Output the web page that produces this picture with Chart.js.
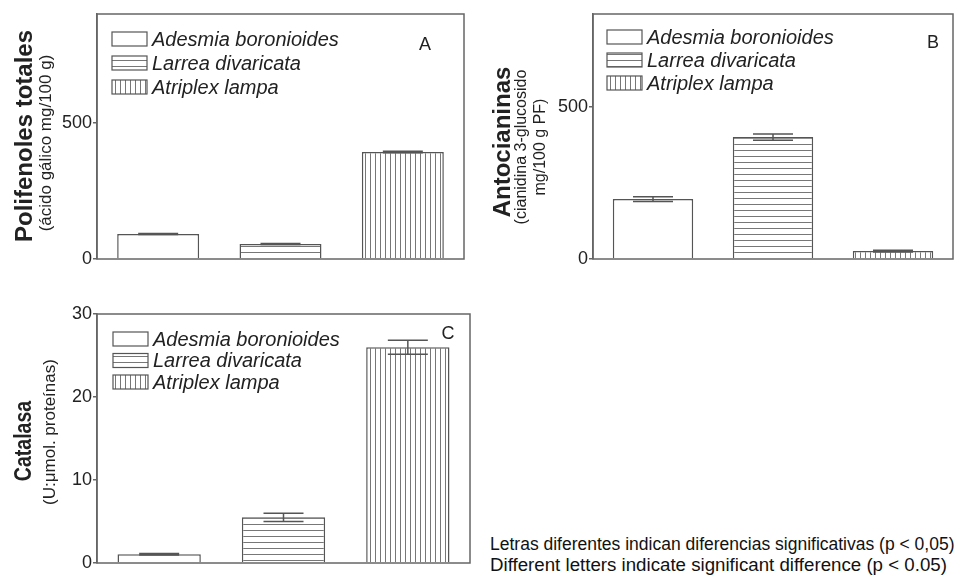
<!DOCTYPE html>
<html>
<head>
<meta charset="utf-8">
<script src="https://cdn.jsdelivr.net/npm/chart.js@4.4.0/dist/chart.umd.min.js"></script>
<style>
    body { margin: 0; background: #fff; width: 955px; height: 576px; overflow: hidden; position: relative;
           font-family: 'Liberation Sans', Arial, sans-serif; color: #222; }
    canvas { position: absolute; }
    .rot { position: absolute; white-space: nowrap; text-align: center; transform: translate(-50%, -50%) rotate(-90deg); }
    .title { font-weight: bold; font-size: 24px; }
    .sub { font-size: 17px; }
    .letter { position: absolute; font-size: 18px; transform: translate(-50%, -50%); }
    .note { position: absolute; left: 490px; font-size: 17.5px; color: #111; white-space: nowrap; line-height: 1; }
</style>
</head>
<body>
<canvas id="chartA" width="480" height="280" style="left:0;top:0"></canvas>
<canvas id="chartB" width="475" height="280" style="left:480px;top:0"></canvas>
<canvas id="chartC" width="480" height="286" style="left:0;top:290px"></canvas>

<div class="rot title" style="left:24px;top:136px">Polifenoles totales</div>
<div class="rot sub" style="left:46px;top:143px">(ácido gálico mg/100 g)</div>
<div class="rot title" style="left:502px;top:142px">Antocianinas</div>
<div class="rot sub" style="left:530px;top:147px;font-size:16px;line-height:19px">(cianidina 3-glucosido<br>mg/100 g PF)</div>
<div class="rot title" style="left:23px;top:441px;font-size:23px;transform:translate(-50%,-50%) rotate(-90deg) scaleX(0.85)">Catalasa</div>
<div class="rot sub" style="left:50px;top:432px">(U:μmol. proteínas)</div>

<div class="letter" style="left:425px;top:44px">A</div>
<div class="letter" style="left:933px;top:42px">B</div>
<div class="letter" style="left:448px;top:333px">C</div>

<div class="note" style="top:536px">Letras diferentes indican diferencias significativas (p &lt; 0,05)</div>
<div class="note" style="top:556px;font-size:18.7px">Different letters indicate significant difference (p &lt; 0.05)</div>

<script>
const categories = ['Adesmia boronioides', 'Larrea divaricata', 'Atriplex lampa'];

const polifenoles = [92, 55, 393];
const polifenolesErr = [2, 2, 3];
const antocianinas = [197, 401, 26];
const antocianinasErr = [8, 10, 3];
const catalasa = [1.05, 5.5, 26.0];
const catalasaErr = [0.1, 0.5, 0.85];

const ticksA = [0, 500];
const ticksB = [0, 500];
const ticksC = [0, 10, 20, 30];

Chart.defaults.font.family = "'Liberation Sans', Arial, sans-serif";
const lineColor = '#666';

// hatch fills: plain, horizontal lines, vertical lines
function makePattern(kind) {
    const c = document.createElement('canvas');
    const ctx = c.getContext('2d');
    c.width = kind === 'v' ? 5 : 6;
    c.height = kind === 'h' ? 6 : 5;
    ctx.fillStyle = '#fff';
    ctx.fillRect(0, 0, c.width, c.height);
    ctx.strokeStyle = '#777';
    ctx.lineWidth = 1;
    ctx.beginPath();
    if (kind === 'h') { ctx.moveTo(0, 0.5); ctx.lineTo(c.width, 0.5); }
    if (kind === 'v') { ctx.moveTo(0.5, 0); ctx.lineTo(0.5, c.height); }
    ctx.stroke();
    return ctx.createPattern(c, 'repeat');
}
const fills = [makePattern('none'), makePattern('h'), makePattern('v')];

const errorBars = {
    id: 'errorBars',
    afterDatasetsDraw(chart, args, opts) {
        const meta = chart.getDatasetMeta(0);
        const y = chart.scales.y;
        const data = chart.data.datasets[0].data;
        const ctx = chart.ctx;
        ctx.save();
        ctx.strokeStyle = '#555';
        ctx.lineWidth = 1.5;
        meta.data.forEach((bar, i) => {
            const yt = y.getPixelForValue(data[i] + opts.errors[i]);
            const yb = y.getPixelForValue(data[i] - opts.errors[i]);
            ctx.beginPath();
            ctx.moveTo(bar.x, yt); ctx.lineTo(bar.x, yb);
            ctx.moveTo(bar.x - 20, yt); ctx.lineTo(bar.x + 20, yt);
            ctx.moveTo(bar.x - 20, yb); ctx.lineTo(bar.x + 20, yb);
            ctx.stroke();
        });
        ctx.restore();
    }
};

const frameBox = {
    id: 'frameBox',
    afterDraw(chart) {
        const { ctx, chartArea: a } = chart;
        ctx.save();
        ctx.strokeStyle = lineColor;
        ctx.lineWidth = 1.5;
        ctx.strokeRect(a.left, a.top, a.right - a.left, a.bottom - a.top);
        ctx.restore();
    }
};

// legend drawn inside the plot area
const insideLegend = {
    id: 'insideLegend',
    afterDraw(chart, args, opts) {
        const { ctx, chartArea: a } = chart;
        const ds = chart.data.datasets[0];
        ctx.save();
        chart.data.labels.forEach((label, i) => {
            const x = a.left + opts.dx;
            const yc = a.top + opts.dy + i * opts.gap;
            ctx.fillStyle = ds.backgroundColor[i];
            ctx.fillRect(x, yc - 7, 35, 14);
            ctx.strokeStyle = '#555';
            ctx.lineWidth = 1.2;
            ctx.strokeRect(x, yc - 7, 35, 14);
            ctx.fillStyle = '#222';
            ctx.font = "italic 20px 'Liberation Sans', Arial, sans-serif";
            ctx.textBaseline = 'middle';
            ctx.fillText(label, x + 40, yc + 1);
        });
        ctx.restore();
    }
};

function makeChart(id, values, errors, tickValues, maxV, cfg) {
    return new Chart(document.getElementById(id), {
        type: 'bar',
        data: {
            labels: categories,
            datasets: [{
                data: values,
                backgroundColor: fills,
                borderColor: '#555',
                borderWidth: 1.5,
                categoryPercentage: 1,
                barPercentage: 0.67
            }]
        },
        options: {
            responsive: false,
            animation: false,
            layout: { padding: cfg.padding },
            plugins: {
                legend: { display: false },
                tooltip: { enabled: false },
                errorBars: { errors: errors },
                insideLegend: cfg.legend
            },
            scales: {
                x: { display: false },
                y: {
                    min: 0,
                    max: maxV,
                    afterBuildTicks: s => { s.ticks = tickValues.map(v => ({ value: v })); },
                    afterFit: s => { s.width = cfg.axisWidth; },
                    ticks: { color: '#222', font: { size: 18 }, padding: 1 },
                    grid: { drawOnChartArea: false, tickLength: 4, color: lineColor, lineWidth: 1.5 },
                    border: { color: lineColor, width: 1.5 }
                }
            }
        },
        plugins: [errorBars, frameBox, insideLegend]
    });
}

makeChart('chartA', polifenoles, polifenolesErr, ticksA, 900, {
    padding: { top: 14, right: 16, bottom: 21, left: 0 },
    axisWidth: 97,
    legend: { dx: 15, dy: 25, gap: 24 }
});
makeChart('chartB', antocianinas, antocianinasErr, ticksB, 806, {
    padding: { top: 14, right: 2, bottom: 21, left: 0 },
    axisWidth: 113,
    legend: { dx: 14, dy: 23, gap: 23 }
});
makeChart('chartC', catalasa, catalasaErr, ticksC, 30, {
    padding: { top: 24, right: 10, bottom: 13, left: 0 },
    axisWidth: 97,
    legend: { dx: 16, dy: 25, gap: 21.5 }
});
</script>
</body>
</html>
